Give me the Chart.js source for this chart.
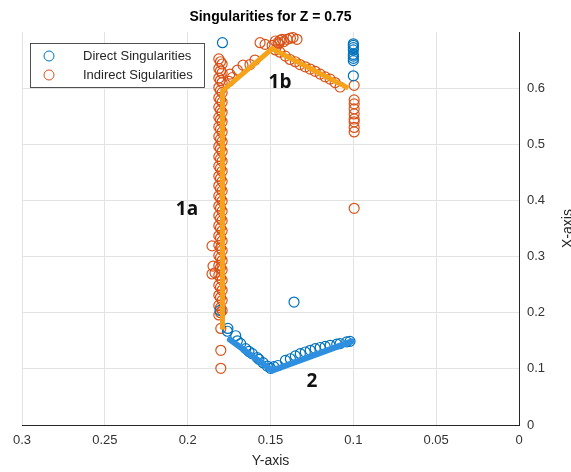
<!DOCTYPE html>
<html>
<head>
<meta charset="utf-8">
<script src="https://cdn.jsdelivr.net/npm/chart.js@4"></script>
<style>
  html, body { margin: 0; padding: 0; background: #fff; }
  #wrap { width: 571px; height: 472px; }
</style>
</head>
<body>
<div id="wrap"><canvas id="dash" width="571" height="472"></canvas></div>
<script>
// tick values
const xTicks = [0.3, 0.25, 0.2, 0.15, 0.1, 0.05, 0];
const yTicks = [0, 0.1, 0.2, 0.3, 0.4, 0.5, 0.6];

// direct singularities (blue)
const directX = [0.179, 0.1, 0.1, 0.1, 0.1, 0.1, 0.1, 0.1, 0.1, 0.1,
  0.1805, 0.1757, 0.176, 0.171,
  0.170, 0.165, 0.161, 0.158, 0.1545, 0.150, 0.1455, 0.138, 0.132, 0.126, 0.120, 0.114, 0.108, 0.102,
  0.104, 0.110, 0.117, 0.123, 0.129, 0.135, 0.141, 0.148, 0.152, 0.157, 0.163, 0.168,
  0.1358];
const directY = [0.681, 0.679, 0.676, 0.672, 0.668, 0.66, 0.657, 0.653, 0.649, 0.622,
  0.204, 0.172, 0.167, 0.159,
  0.150, 0.136, 0.127, 0.120, 0.111, 0.101, 0.106, 0.118, 0.127, 0.133, 0.138, 0.142, 0.145, 0.149,
  0.148, 0.144, 0.140, 0.136, 0.130, 0.123, 0.115, 0.104, 0.105, 0.117, 0.131, 0.145,
  0.219];

// indirect singularities (orange) - dense vertical column near 0.18
const columnAY = [0.652, 0.635, 0.618, 0.601, 0.583, 0.566, 0.548, 0.531, 0.514, 0.496,
  0.478, 0.461, 0.443, 0.426, 0.408, 0.39, 0.373, 0.355, 0.337, 0.32, 0.302, 0.284,
  0.267, 0.249, 0.231, 0.213, 0.196];
const columnBY = [0.643, 0.627, 0.61, 0.592, 0.575, 0.557, 0.54, 0.522, 0.505, 0.487,
  0.47, 0.452, 0.434, 0.417, 0.399, 0.381, 0.364, 0.346, 0.328, 0.311, 0.293, 0.276,
  0.258, 0.24, 0.222, 0.204];
const columnCY = [0.647, 0.631, 0.614, 0.596, 0.579, 0.561, 0.544, 0.527, 0.509, 0.492,
  0.474, 0.457, 0.439, 0.421, 0.404, 0.386, 0.368, 0.351, 0.333, 0.315, 0.298, 0.28,
  0.262, 0.245, 0.227, 0.209, 0.2];
// other indirect points
const indirectX = [0.1853, 0.1847, 0.1853, 0.1835, 0.18, 0.18, 0.18,
  0.175, 0.1745, 0.173, 0.170, 0.1666, 0.1624, 0.1594, 0.1563, 0.1533, 0.149, 0.1455,
  0.147, 0.143, 0.1443, 0.140, 0.1364, 0.134, 0.138, 0.142, 0.145,
  0.1443, 0.1382, 0.1322, 0.126, 0.120, 0.114, 0.108, 0.141, 0.135, 0.129, 0.123, 0.117, 0.111, 0.147,
  0.0995, 0.0995, 0.0995, 0.0995, 0.0995, 0.0995, 0.0995, 0.0995, 0.0995, 0.0995];
const indirectY = [0.319, 0.283, 0.269, 0.271, 0.172, 0.133, 0.101,
  0.612, 0.625, 0.619, 0.632, 0.641, 0.642, 0.650, 0.681, 0.678, 0.676, 0.681,
  0.684, 0.687, 0.685, 0.687, 0.690, 0.687, 0.689, 0.683, 0.679,
  0.664, 0.651, 0.642, 0.634, 0.625, 0.616, 0.602, 0.657, 0.647, 0.638, 0.63, 0.62, 0.61, 0.668,
  0.605, 0.579, 0.572, 0.563, 0.554, 0.545, 0.54, 0.53, 0.522, 0.386];

// highlighted paths
const path1X = [0.179, 0.179, 0.149, 0.103];
const path1Y = [0.17, 0.595, 0.67, 0.60];
const path2X = [0.1745, 0.149, 0.101];
const path2Y = [0.152, 0.097, 0.149];

const labels = [
  { text: '1a', x: 187, y: 210 },
  { text: '1b', x: 280, y: 83 },
  { text: '2', x: 312, y: 382 }
];

const pts = (xs, ys) => xs.map((x, i) => ({ x: x, y: ys[i] }));
const col = (x, ys) => ys.map(y => ({ x: x, y: y }));

const blue = '#0072BD';
const orange = '#D95319';
const font = '"Liberation Sans", Arial, sans-serif';
const axisColor = '#262626';

const decor = {
  id: 'decor',
  afterDraw(chart) {
    const ctx = chart.ctx;
    const a = chart.chartArea;
    ctx.save();
    // title
    ctx.fillStyle = '#000';
    ctx.font = 'bold 14px ' + font;
    ctx.textAlign = 'center';
    ctx.textBaseline = 'middle';
    ctx.fillText('Singularities for Z = 0.75', (a.left + a.right) / 2, 17);

    // right axis title
    ctx.save();
    ctx.translate(568, (a.top + a.bottom) / 2);
    ctx.rotate(-Math.PI / 2);
    ctx.font = '14px ' + font;
    ctx.fillStyle = axisColor;
    ctx.fillText('X-axis', 0, 0);
    ctx.restore();

    // legend
    ctx.fillStyle = '#fff';
    ctx.fillRect(30, 43, 174, 44);
    ctx.strokeStyle = axisColor;
    ctx.lineWidth = 0.8;
    ctx.strokeRect(30.5, 43.5, 174, 44);
    const items = [['Direct Singularities', blue, 56], ['Indirect Sigularities', orange, 75]];
    ctx.font = '13px ' + font;
    ctx.textAlign = 'left';
    items.forEach(([t, c, y]) => {
      ctx.beginPath();
      ctx.arc(49, y, 5, 0, Math.PI * 2);
      ctx.strokeStyle = c;
      ctx.lineWidth = 1;
      ctx.stroke();
      ctx.fillStyle = axisColor;
      ctx.fillText(t, 83, y);
    });

    // annotations
    ctx.fillStyle = '#111';
    ctx.font = 'bold 19px "Open Sans", sans-serif';
    ctx.textAlign = 'center';
    labels.forEach(l => ctx.fillText(l.text, l.x, l.y));
    ctx.restore();
  }
};

new Chart(document.getElementById('dash'), {
  type: 'scatter',
  data: {
    datasets: [
      { data: pts(path1X, path1Y), showLine: true, borderColor: '#F5A31A', borderWidth: 5, pointRadius: 0 },
      { data: pts(path2X, path2Y), showLine: true, borderColor: '#2E8FE0', borderWidth: 6, pointRadius: 0, borderCapStyle: 'round' },
      { data: pts(directX, directY), pointStyle: 'circle', pointRadius: 5, borderColor: blue, backgroundColor: 'rgba(0,0,0,0)', borderWidth: 1.2 },
      { data: col(0.1812, columnAY).concat(col(0.1792, columnBY)).concat(col(0.1802, columnCY)).concat(pts(indirectX, indirectY)),
        pointStyle: 'circle', pointRadius: 5, borderColor: orange, backgroundColor: 'rgba(0,0,0,0)', borderWidth: 1.2 }
    ]
  },
  options: {
    responsive: false,
    animation: false,
    layout: { padding: { top: 32, left: 22, right: 0, bottom: 0 } },
    plugins: { legend: { display: false }, tooltip: { enabled: false }, title: { display: false } },
    scales: {
      x: {
        type: 'linear', reverse: true, min: 0, max: 0.3,
        afterBuildTicks(s) { s.ticks = xTicks.map(v => ({ value: v })); },
        afterFit(s) { s.height = 47; },
        grid: { color: '#e3e3e3', drawTicks: false },
        border: { display: true, color: axisColor, width: 1 },
        ticks: { color: '#333', font: { family: font, size: 13 }, padding: 8, maxRotation: 0,
          callback: v => String(Number(v.toFixed(2))) },
        title: { display: true, text: 'Y-axis', color: axisColor, font: { family: font, size: 14 }, padding: { top: 0, bottom: 2 } }
      },
      y: {
        type: 'linear', position: 'right', min: 0, max: 0.7,
        afterBuildTicks(s) { s.ticks = yTicks.map(v => ({ value: v })); },
        afterFit(s) { s.width = 52; },
        grid: { color: '#e3e3e3', drawTicks: false },
        border: { display: true, color: axisColor, width: 1 },
        ticks: { color: '#333', font: { family: font, size: 13 }, padding: 8,
          callback: v => String(Number(v.toFixed(2))) }
      }
    }
  },
  plugins: [decor]
});
</script>
</body>
</html>
